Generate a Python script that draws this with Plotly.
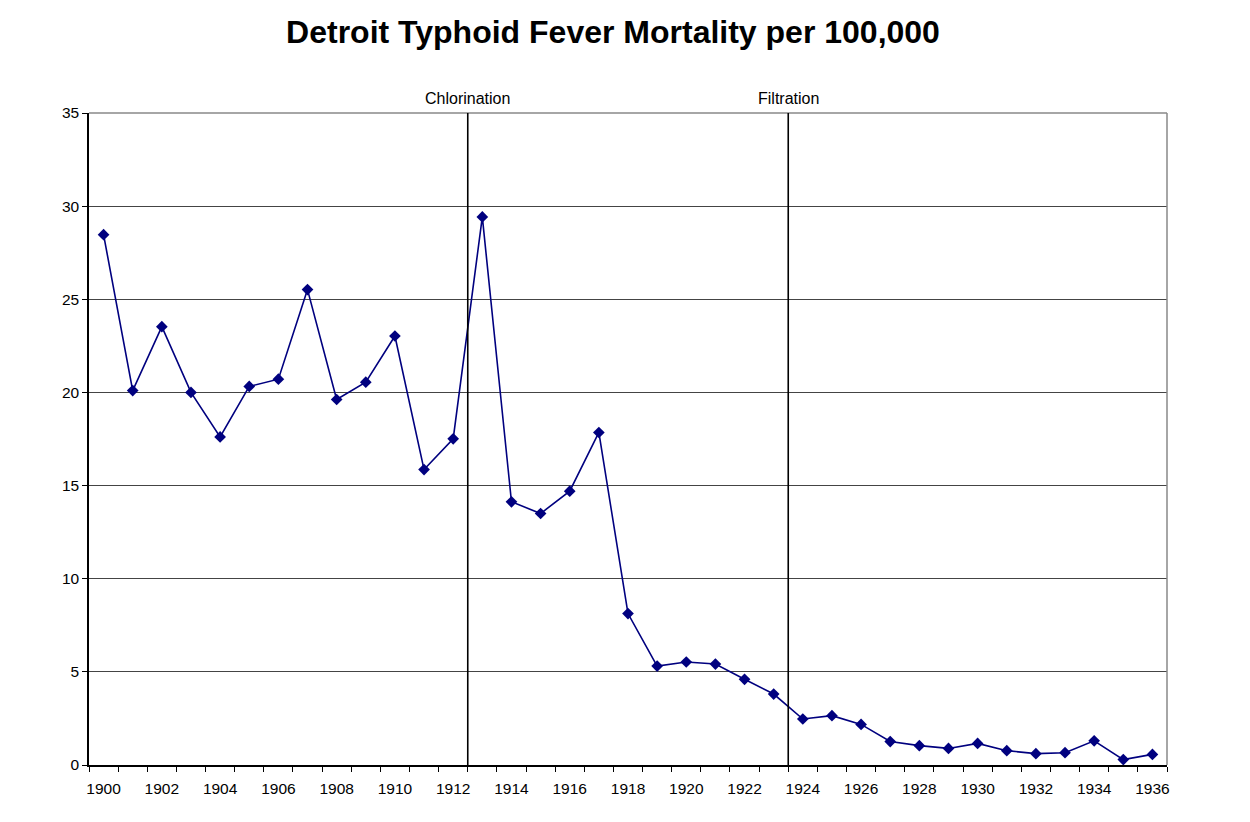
import plotly.graph_objects as go

years = list(range(1900, 1937))
mortality = [28.47, 20.10, 23.53, 20.0, 17.61, 20.32, 20.71, 25.52, 19.62, 20.55,
             23.03, 15.86, 17.51, 29.42, 14.13, 13.50, 14.70, 17.85, 8.13, 5.31,
             5.53, 5.42, 4.60, 3.81, 2.47, 2.65, 2.18, 1.26, 1.04, 0.89,
             1.16, 0.77, 0.61, 0.66, 1.30, 0.29, 0.57]
tick_years = years[::2]
event_labels = ["Chlorination", "Filtration"]
event_x = [1912.5, 1923.5]

NAVY = "#00007f"
FONT = "Liberation Sans, Arial, Helvetica, sans-serif"

fig = go.Figure()
fig.add_trace(go.Scatter(
    x=years, y=mortality, mode="lines+markers",
    line=dict(color=NAVY, width=1.6),
    marker=dict(symbol="diamond", size=9, color=NAVY),
    showlegend=False, hoverinfo="x+y"))

boundaries = [y - 0.5 for y in years] + [years[-1] + 0.5]

fig.update_xaxes(
    range=[years[0] - 0.5, years[-1] + 0.5],
    tickmode="array", tickvals=tick_years, ticktext=[str(v) for v in tick_years],
    ticks="", showgrid=False, zeroline=False,
    showline=True, linecolor="black", linewidth=1.5,
    ticklabelstandoff=9,
    tickfont=dict(family=FONT, size=15.5, color="black"),
    minor=dict(tickmode="array", tickvals=boundaries, ticks="outside", ticklen=5,
               tickcolor="black", tickwidth=1, showgrid=False),
)
fig.update_yaxes(
    range=[0, 35], tickmode="linear", tick0=0, dtick=5,
    ticks="outside", ticklen=5, tickcolor="black",
    showgrid=True, gridcolor="#444444", gridwidth=1, zeroline=False,
    showline=True, linecolor="black", linewidth=1.5,
    tickfont=dict(family=FONT, size=15.5, color="black"),
)

# top and right frame
fig.add_shape(type="line", xref="x domain", yref="y domain", x0=0, x1=1, y0=1, y1=1,
              line=dict(color="#888888", width=1.5))
fig.add_shape(type="line", xref="x domain", yref="y domain", x0=1, x1=1, y0=0, y1=1,
              line=dict(color="#888888", width=1.5))

for lab, xv in zip(event_labels, event_x):
    fig.add_shape(type="line", xref="x", yref="y domain", x0=xv, x1=xv, y0=0, y1=1,
                  line=dict(color="black", width=1.6))
    fig.add_annotation(x=xv, xref="x", y=1, yref="y domain", yshift=15,
                       yanchor="middle", text=lab, showarrow=False,
                       font=dict(family=FONT, size=16, color="black"))

fig.update_layout(
    width=1250, height=822,
    margin=dict(l=81, r=91, t=105, b=65),
    paper_bgcolor="white", plot_bgcolor="white",
    title=dict(text="<b>Detroit Typhoid Fever Mortality per 100,000</b>",
               x=(613 - 8) / 1250, xanchor="center", y=1 - 24 / 822, yanchor="middle",
               yref="container",
               font=dict(family=FONT, size=32, color="black")),
)

fig.write_html("out.html")
